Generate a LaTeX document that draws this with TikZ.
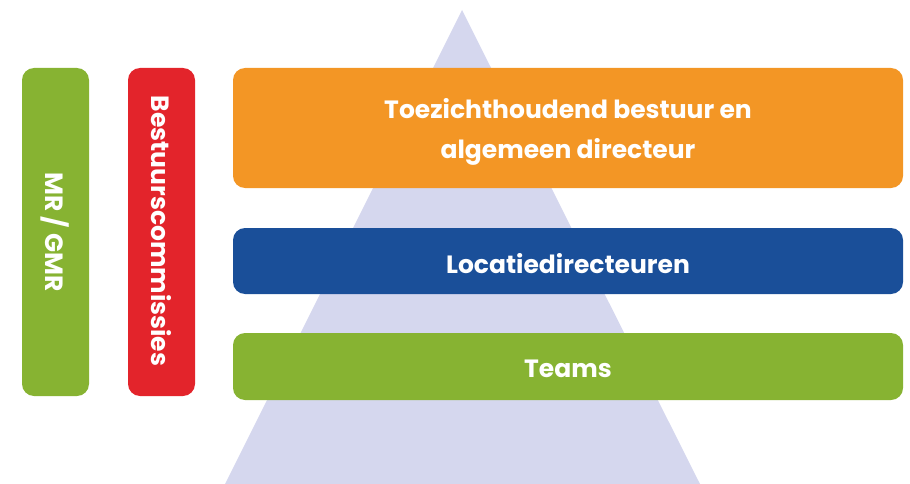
\documentclass[tikz,border=0pt]{standalone}
\usepackage{fontspec}
\setmainfont{Poppins}
\definecolor{pyramid}{HTML}{D5D7EE}
\definecolor{barGreen}{HTML}{87B332}
\definecolor{barRed}{HTML}{E3242B}
\definecolor{barOrange}{HTML}{F39625}
\definecolor{barBlue}{HTML}{1A4F99}
\begin{document}
\begin{tikzpicture}[x=1pt,y=-1pt,
  tier/.style={rounded corners=12pt, inner sep=0pt},
  lbl/.style={text=white, font=\bfseries\fontsize{25}{40}\selectfont, align=center}]
\useasboundingbox (0,0) rectangle (910,484);
% background pyramid
\fill[pyramid] (462,10) -- (700,484) -- (225,484) -- cycle;
% side bars
\fill[barGreen, tier] (22,68) rectangle (89,396);
\fill[barRed, tier] (128,68) rectangle (195,396);
\node[lbl, rotate=-90] (mr) at (55.5,232) {MR / GMR};
\node[lbl, rotate=-90] (bc) at (161.5,231) {Bestuurscommissies};
% tiers
\fill[barOrange, tier] (233,68) rectangle (903,188);
\fill[barBlue, tier] (233,228) rectangle (903,294);
\fill[barGreen, tier] (233,333) rectangle (903,400);
\node[lbl] (top) at (568,132) {Toezichthoudend bestuur en\\algemeen directeur};
\node[lbl] (mid) at (568,264) {Locatiedirecteuren};
\node[lbl] (bot) at (568,369) {Teams};
\end{tikzpicture}
\end{document}
